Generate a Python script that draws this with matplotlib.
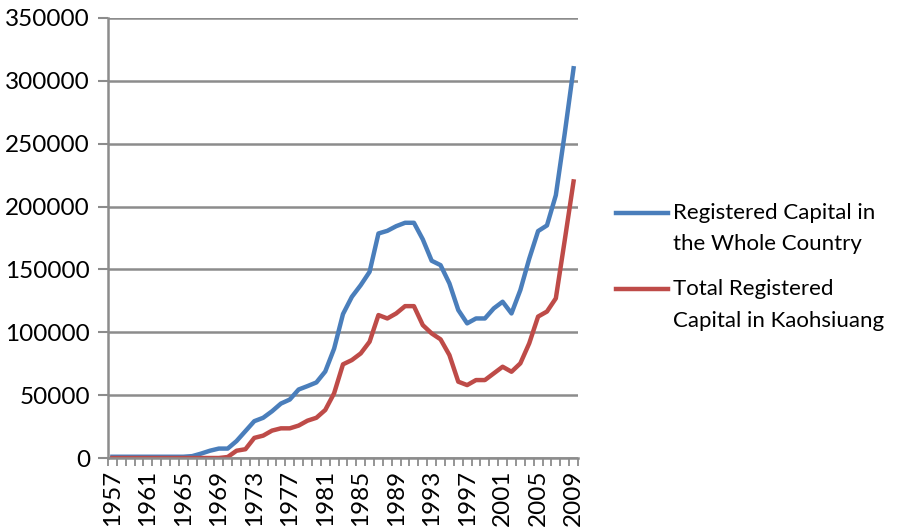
import numpy as np
import matplotlib
matplotlib.use('Agg')
import matplotlib.pyplot as plt
from matplotlib.lines import Line2D

years = list(range(1957, 2010))

# registered capital, whole country
whole_country = [
    1000, 1000, 1000, 1000, 1000, 1000, 1000, 1000, 1000, 1500,      # 1957-1966
    3500, 5800, 7500, 7500, 13500, 21400, 29300, 32000, 37200, 43300,  # 1967-1976
    46500, 54500, 57200, 60100, 68800, 87000, 114500, 128200, 137500, 148100,  # 1977-1986
    178600, 180700, 184400, 187100, 187100, 173900, 156900, 153400, 138900, 117700,  # 1987-1996
    107100, 111000, 111000, 119000, 124300, 115000, 133600, 158500, 180500, 185000,  # 1997-2006
    209000, 258000, 310000,                                            # 2007-2009
]

# total registered capital, Kaohsiung
kaohsiung = [
    0, 0, 0, 0, 0, 0, 0, 0, 0, 0,
    0, 0, 0, 800, 5800, 7000, 16000, 17800, 21800, 23600,
    23600, 25800, 29700, 32000, 38200, 51500, 74500, 77900, 83200, 92500,
    113700, 111000, 115000, 120800, 120800, 105700, 99100, 94400, 81900, 60700,
    58000, 62000, 62000, 67300, 72600, 68600, 75300, 91200, 112500, 116500,
    127000, 173000, 220000,
]

series_names = ["Registered Capital in\nthe Whole Country",
                "Total Registered\nCapital in Kaohsiuang"]
colors = ["#4a7ebb", "#be4b48"]

plt.rcParams['font.family'] = ['Lato', 'DejaVu Sans']

fig = plt.figure(figsize=(9.02, 5.29), dpi=100)
ax = fig.add_axes([0.1197, 0.1342, 0.5211, 0.8318])

x = np.arange(len(years))
ax.plot(x, whole_country, color=colors[0], lw=3.2, solid_joinstyle='round')
ax.plot(x, kaohsiung, color=colors[1], lw=3.2, solid_joinstyle='round')

ax.set_xlim(-0.5, len(years) - 0.5)
ax.set_ylim(0, 350000)
ax.set_yticks(np.arange(0, 350001, 50000))
ax.set_yticklabels([str(v) for v in range(0, 350001, 50000)])
ax.yaxis.grid(True, color='#8c8c8c', lw=1.8)
ax.set_axisbelow(True)

ax.set_xticks(x[::4])
ax.set_xticklabels([str(y) for y in years[::4]], rotation=90)
ax.set_xticks(np.arange(-0.5, len(years), 1), minor=True)
ax.tick_params(axis='x', which='major', length=0, pad=8.5, labelsize=17.5)
ax.tick_params(axis='x', which='minor', length=6, width=1.3, color='#8c8c8c')
ax.tick_params(axis='y', length=7, width=1.5, color='#8c8c8c', labelsize=17.5, pad=6)

for s in ['top', 'right']:
    ax.spines[s].set_visible(False)
for s in ['left', 'bottom']:
    ax.spines[s].set_color('#8c8c8c')
    ax.spines[s].set_linewidth(1.8)

# legend on the right, handle on the first text line
legend_rows = [(213, 244), (289, 321)]
for name, c, rows in zip(series_names, colors, legend_rows):
    y1 = 1 - rows[0] / 529
    fig.add_artist(Line2D([616 / 902, 668 / 902], [y1, y1], color=c, lw=3.2,
                          transform=fig.transFigure))
    for line, row in zip(name.split('\n'), rows):
        fig.text(673 / 902, 1 - row / 529, line, fontsize=16, va='center',
                 ha='left')

fig.savefig("out.png", dpi=100)
